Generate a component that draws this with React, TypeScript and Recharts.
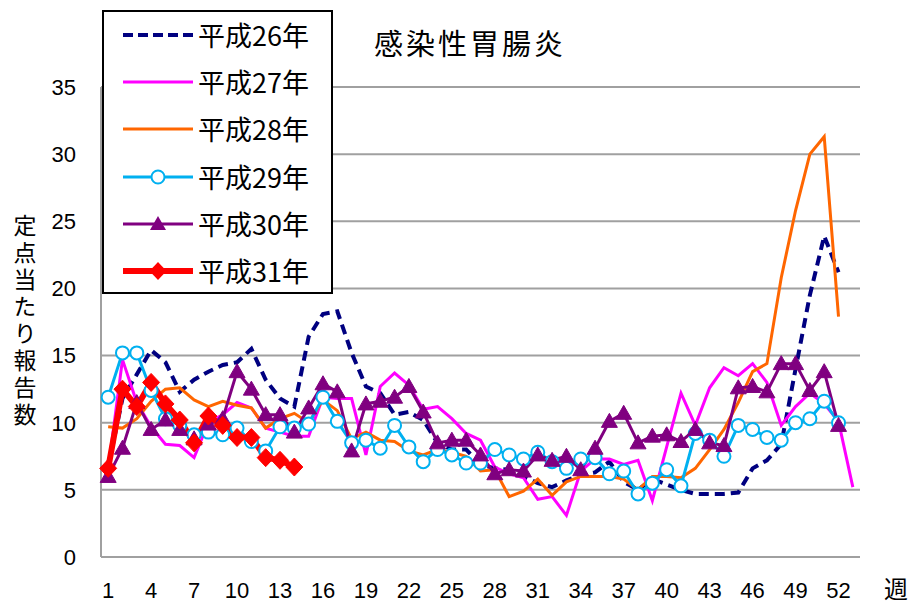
import React from 'react';
import { LineChart, Line, XAxis, YAxis, CartesianGrid } from 'recharts';

const weeks = [1,2,3,4,5,6,7,8,9,10,11,12,13,14,15,16,17,18,19,20,21,22,23,24,25,26,27,28,29,30,31,32,33,34,35,36,37,38,39,40,41,42,43,44,45,46,47,48,49,50,51,52,53];

const h26 = [6.7,11.8,13.6,15.4,14.5,12.3,13.2,13.8,14.3,14.5,15.5,13.2,11.8,11.2,16.4,18.1,18.3,15.2,12.7,12.2,10.6,10.8,10.2,8.5,8.0,8.0,6.9,6.6,6.5,6.0,5.5,5.2,5.7,6.1,6.3,7.1,5.6,5.0,5.8,5.4,5.0,4.7,4.7,4.7,4.8,6.6,7.2,8.4,14.0,19.5,23.9,21.2,null];
const h27 = [6.5,14.7,11.5,9.7,8.4,8.3,7.4,10.0,10.6,11.5,11.1,9.6,9.3,9.0,9.0,11.9,11.8,11.8,7.6,12.7,13.7,12.8,11.0,11.2,10.3,9.2,8.7,6.7,6.2,5.9,4.3,4.5,3.1,6.4,7.3,7.3,6.9,7.2,4.2,8.2,12.2,9.8,12.6,14.1,13.5,14.4,13.0,9.8,11.2,12.2,11.4,10.1,5.2];
const h28 = [9.7,9.6,10.3,11.6,12.5,12.6,11.7,11.2,11.6,11.3,11.1,9.6,10.3,10.7,10.0,11.7,10.9,8.8,9.3,8.7,8.6,7.9,7.6,8.0,7.8,7.5,6.4,6.5,4.5,4.9,5.8,4.6,5.6,6.0,6.0,6.0,5.8,5.0,6.0,6.0,5.9,6.6,8.0,9.5,11.5,13.8,14.4,20.8,25.8,30.0,31.3,17.9,null];
const h29 = [11.9,15.2,15.2,12.4,10.3,9.8,9.1,9.3,9.1,9.6,8.6,7.9,9.7,9.6,9.9,11.9,10.1,8.5,8.7,8.1,9.8,8.2,7.1,8.0,7.6,7.0,7.0,8.0,7.6,7.3,7.8,7.1,6.6,7.3,7.4,6.2,6.4,4.7,5.5,6.5,5.3,9.2,8.7,7.5,9.8,9.5,8.9,8.7,10.0,10.3,11.6,10.0,null];
const h30 = [6.0,8.1,11.5,9.5,10.2,9.5,8.8,9.9,10.3,13.8,12.5,10.6,10.6,9.3,11.1,12.9,12.3,7.9,11.4,11.6,11.9,12.7,10.8,8.5,8.7,8.7,7.6,6.2,6.5,6.4,7.6,7.2,7.5,6.5,8.1,10.1,10.7,8.5,9.0,9.1,8.6,9.5,8.5,8.3,12.6,12.7,12.3,14.4,14.4,12.4,13.8,9.8,null];
const h31 = [6.6,12.5,11.2,13.0,11.4,10.2,8.5,10.5,9.8,8.9,8.9,7.4,7.2,6.7,null,null,null,null,null,null,null,null,null,null,null,null,null,null,null,null,null,null,null,null,null,null,null,null,null,null,null,null,null,null,null,null,null,null,null,null,null,null,null];

const seriesNames = ['平成26年', '平成27年', '平成28年', '平成29年', '平成30年', '平成31年'];
const xTicks = [1,4,7,10,13,16,19,22,25,28,31,34,37,40,43,46,49,52];
const yTicks = [0,5,10,15,20,25,30,35];
const titleText = '感染性胃腸炎';
const yLabelText = '定点当たり報告数';
const xLabelText = '週';

const data = weeks.map((w, i) => ({
  week: w,
  h26: h26[i], h27: h27[i], h28: h28[i], h29: h29[i], h30: h30[i], h31: h31[i],
}));

const C26 = '#000080';
const C27 = '#FF00FF';
const C28 = '#FF6600';
const C29 = '#00B0F0';
const C30 = '#800080';
const C31 = '#FF0000';
const GRID = '#A0A0A0';
const CJK = '"Noto Sans CJK JP", "Noto Sans", sans-serif';
const NUM = '"Liberation Sans", Arial, sans-serif';

const bad = (v: any) => v == null || Number.isNaN(v);

const circleDot = (p: any) => {
  const { cx, cy, index } = p;
  if (bad(cx) || bad(cy)) return <g key={`c${index}`} />;
  return <circle key={`c${index}`} cx={cx} cy={cy} r={6.5} fill="#fff" stroke={C29} strokeWidth={2} />;
};
const triDot = (p: any) => {
  const { cx, cy, index } = p;
  if (bad(cx) || bad(cy)) return <g key={`t${index}`} />;
  return <polygon key={`t${index}`} points={`${cx},${cy - 8} ${cx - 8},${cy + 6} ${cx + 8},${cy + 6}`} fill={C30} stroke={C30} strokeWidth={1} />;
};
const diaDot = (p: any) => {
  const { cx, cy, index } = p;
  if (bad(cx) || bad(cy)) return <g key={`d${index}`} />;
  return <polygon key={`d${index}`} points={`${cx},${cy - 9} ${cx + 8.5},${cy} ${cx},${cy + 9} ${cx - 8.5},${cy}`} fill={C31} stroke={C31} strokeWidth={1} />;
};

const XTick = (p: any) => {
  const { x, y, payload } = p;
  return (
    <text x={x} y={y} dy="0.71em" textAnchor="middle" fontSize={22} fontFamily={NUM} fill="#000">
      {payload.value}
    </text>
  );
};

const legendItems = [
  { name: seriesNames[0], color: C26, width: 4, dash: '10 5', marker: 'none' },
  { name: seriesNames[1], color: C27, width: 3, dash: undefined, marker: 'none' },
  { name: seriesNames[2], color: C28, width: 3, dash: undefined, marker: 'none' },
  { name: seriesNames[3], color: C29, width: 3, dash: undefined, marker: 'circle' },
  { name: seriesNames[4], color: C30, width: 3, dash: undefined, marker: 'tri' },
  { name: seriesNames[5], color: C31, width: 6, dash: undefined, marker: 'dia' },
];

function LegendBox() {
  return (
    <div style={{ position: 'absolute', left: 102, top: 10, width: 231, height: 284, border: '2px solid #000', boxSizing: 'border-box', background: '#fff' }}>
      {legendItems.map((it, i) => {
        const cy = 23 + i * 47.2;
        return (
          <div key={it.name} style={{ position: 'absolute', left: 0, top: cy - 20, width: 227, height: 40 }}>
            <svg width={80} height={40} style={{ position: 'absolute', left: 17, top: 0 }}>
              <line x1={2} y1={20} x2={72} y2={20} stroke={it.color} strokeWidth={it.width} strokeDasharray={it.dash} />
              {it.marker === 'circle' && <circle cx={37} cy={20} r={6.5} fill="#fff" stroke={it.color} strokeWidth={2} />}
              {it.marker === 'tri' && <polygon points={`37,12 29,26 45,26`} fill={it.color} />}
              {it.marker === 'dia' && <polygon points={`37,11 45.5,20 37,29 28.5,20`} fill={it.color} />}
            </svg>
            <div style={{ position: 'absolute', left: 94, top: 0, height: 40, lineHeight: '40px', fontSize: 27, fontFamily: CJK, color: '#000', whiteSpace: 'nowrap' }}>
              {it.name}
            </div>
          </div>
        );
      })}
    </div>
  );
}

export default function App() {
  return (
    <div style={{ position: 'absolute', left: 0, top: 0, width: 917, height: 606, background: '#fff', overflow: 'hidden' }}>
      <LineChart width={917} height={606} data={data} margin={{ top: 87, right: 57, bottom: 0, left: 0 }}>
        <CartesianGrid horizontal={true} vertical={false} stroke={GRID} strokeWidth={2} />
        <XAxis
          dataKey="week"
          type="number"
          domain={[0.5, 53.5]}
          ticks={xTicks}
          interval={0}
          height={49}
          tickLine={false}
          tickSize={0}
          tickMargin={25}
          axisLine={{ stroke: GRID, strokeWidth: 2 }}
          tick={<XTick />}
        />
        <YAxis
          domain={[0, 35]}
          ticks={yTicks}
          width={101}
          tickLine={false}
          tickSize={0}
          tickMargin={25}
          axisLine={{ stroke: GRID, strokeWidth: 2 }}
          tick={{ fontSize: 22, fontFamily: NUM, fill: '#000' }}
        />
        <Line dataKey="h26" name={seriesNames[0]} stroke={C26} strokeWidth={4} strokeDasharray="10 6" dot={false} isAnimationActive={false} />
        <Line dataKey="h27" name={seriesNames[1]} stroke={C27} strokeWidth={3} dot={false} isAnimationActive={false} />
        <Line dataKey="h28" name={seriesNames[2]} stroke={C28} strokeWidth={3} dot={false} isAnimationActive={false} />
        <Line dataKey="h29" name={seriesNames[3]} stroke={C29} strokeWidth={3} dot={circleDot} isAnimationActive={false} />
        <Line dataKey="h30" name={seriesNames[4]} stroke={C30} strokeWidth={3} dot={triDot} isAnimationActive={false} />
        <Line dataKey="h31" name={seriesNames[5]} stroke={C31} strokeWidth={6} dot={diaDot} isAnimationActive={false} />
      </LineChart>
      <LegendBox />
      <div style={{ position: 'absolute', left: 320, top: 22, width: 300, textAlign: 'center', fontSize: 29, letterSpacing: 3, fontFamily: CJK, color: '#000', lineHeight: '40px' }}>
        {titleText}
      </div>
      <div style={{ position: 'absolute', left: 12, top: 214, writingMode: 'vertical-rl', fontSize: 23, letterSpacing: 4, fontFamily: CJK, color: '#000', lineHeight: '26px' }}>
        {yLabelText}
      </div>
      <div style={{ position: 'absolute', left: 884, top: 574, fontSize: 24, fontFamily: CJK, color: '#000', lineHeight: '28px' }}>
        {xLabelText}
      </div>
    </div>
  );
}
